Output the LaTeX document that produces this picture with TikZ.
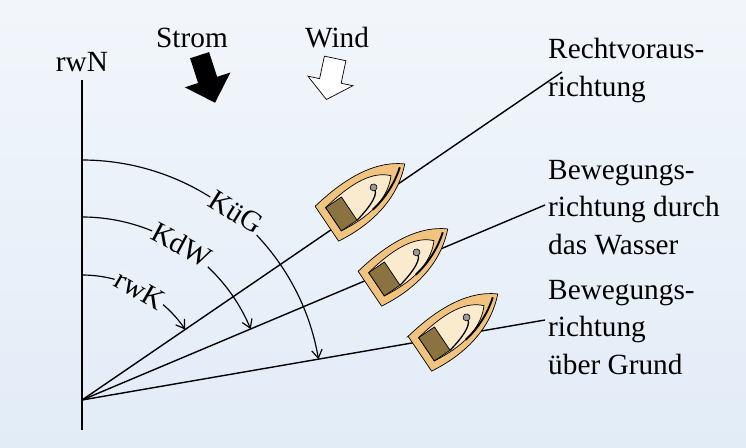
\documentclass[tikz,border=0pt]{standalone}
\usepackage{fontspec}
\setmainfont{Liberation Serif}
\usetikzlibrary{arrows.meta}
\definecolor{bgtop}{HTML}{F2F6FB}
\definecolor{bgbot}{HTML}{E2ECF7}
\definecolor{hull}{HTML}{F0C47E}
\definecolor{deck}{HTML}{FAEBCF}
\definecolor{cabin}{HTML}{8A7241}
\tikzset{
  lbl/.style={font=\fontsize{25}{32}\selectfont, align=left, inner sep=0pt},
  arclbl/.style={font=\fontsize{25}{32}\selectfont, fill=bgtop!50!bgbot, inner sep=1pt},
  course/.style={line width=1.2pt},
  angle/.style={line width=1pt, -{Straight Barb[length=7pt,width=9pt]}},
  boat/.pic={
    \draw[fill=hull, line width=0.6pt] (-46,-21) -- (-46,21) .. controls (0,27) and (32,14) .. (52,-6) .. controls (32,-23) and (0,-29) .. cycle;
    \draw[fill=deck, line width=0.6pt] (-38,-14) -- (-38,14) .. controls (0,19) and (22,10) .. (34,-4) .. controls (22,-17) and (0,-21) .. cycle;
    \draw[fill=cabin, line width=0.6pt] (-38,-14) rectangle (-19,14);
    \draw[line width=1.1pt] (13,-4) .. controls (15,4) and (0,10) .. (-19,14);
    \draw[fill=gray!80, line width=0.5pt] (13,-4) circle (3.5);
    \draw[line width=1.6pt] (0,14) .. controls (20,11) and (36,2) .. (46,-6);
  }
}
\begin{document}
\begin{tikzpicture}[x=0.03cm, y=-0.03cm]
  \shade[top color=bgtop, bottom color=bgbot] (0,0) rectangle (746,448);
  \useasboundingbox (0,0) rectangle (746,448);

  \coordinate (origin) at (82,400);
  \coordinate (north) at (82,80);
  \coordinate (ahead) at (562,72);
  \coordinate (water) at (545,205);
  \coordinate (ground) at (545,320);

  \draw[course] (82,430) -- (north);
  \draw[course] (origin) -- (ahead);
  \draw[course] (origin) -- (water);
  \draw[course] (origin) -- (ground);

  % angles
  \draw[angle] (82,275) arc [radius=125, start angle=-90, end angle=-34.3];
  \draw[angle] (82,217) arc [radius=183, start angle=-90, end angle=-22.8];
  \draw[angle] (82,160) arc [radius=240, start angle=-90, end angle=-9.8];
  \node[arclbl, rotate=-30] (rwk) at (140,290) {rwK};
  \node[arclbl, rotate=-28] (kdw) at (182,245) {KdW};
  \node[arclbl, rotate=-32] (kug) at (236,212) {KüG};

  % boats
  \pic[rotate=34] at (365,198) {boat};
  \pic[rotate=34] at (408,263) {boat};
  \pic[rotate=34] at (458,328) {boat};

  % current and wind
  \begin{scope}[shift={(207,78)}, rotate=-72]
    \fill[black] (-24,-10) -- (2,-10) -- (2,-24) -- (26,0) -- (2,24) -- (2,10) -- (-24,10) -- cycle;
  \end{scope}
  \begin{scope}[shift={(331,78)}, rotate=-102]
    \draw[fill=white, line width=0.6pt] (-20,-11) -- (3,-11) -- (3,-23) -- (22,0) -- (3,23) -- (3,11) -- (-20,11) -- cycle;
  \end{scope}

  \node[lbl] (rwn) at (82,62) {rwN};
  \node[lbl] (strom) at (192,38) {Strom};
  \node[lbl] (wind) at (337,38) {Wind};
  \node[lbl, anchor=north west] (ahead lbl) at (548,38) {Rechtvoraus-\\richtung};
  \node[lbl, anchor=north west] (water lbl) at (548,160) {Bewegungs-\\richtung durch\\das Wasser};
  \node[lbl, anchor=north west] (ground lbl) at (548,280) {Bewegungs-\\richtung\\über Grund};
\end{tikzpicture}
\end{document}
